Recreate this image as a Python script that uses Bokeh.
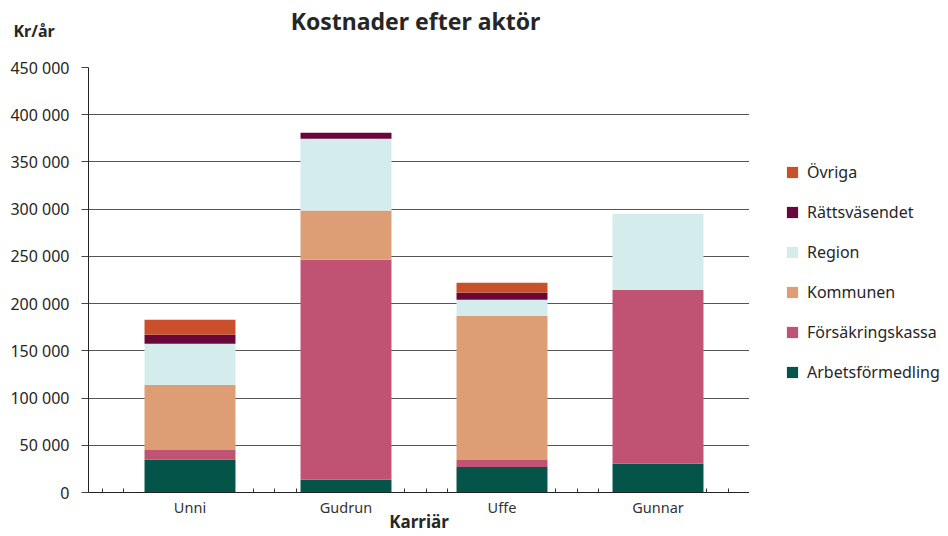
from bokeh.plotting import figure
from bokeh.models import ColumnDataSource, Range1d, FixedTicker, Legend, LegendItem, Label
from bokeh.layouts import column, row
from bokeh.embed import file_html
from bokeh.resources import INLINE

# ---- data ----
persons = ["Unni", "Gudrun", "Uffe", "Gunnar"]
series = ["Arbetsförmedling", "Försäkringskassa", "Kommunen", "Region", "Rättsväsendet", "Övriga"]
arbetsformedling = [35000, 13500, 27000, 30500]
forsakringskassa = [10000, 233000, 7500, 184000]
kommunen = [69000, 52000, 152500, 0]
region = [43500, 76000, 17000, 80500]
rattsvasendet = [9500, 6500, 7500, 0]
ovriga = [16000, 0, 10500, 0]
colors = ["#04544A", "#C05273", "#DD9E76", "#D5ECED", "#6A073A", "#C9502B"]
y_ticks = [0, 50000, 100000, 150000, 200000, 250000, 300000, 350000, 400000, 450000]
y_tick_labels = ["0", "50 000", "100 000", "150 000", "200 000", "250 000",
                 "300 000", "350 000", "400 000", "450 000"]
title_text = "Kostnader efter aktör"
y_unit_text = "Kr/år"
x_title_text = "Karriär"

FONT = "Noto Sans"
TXT = "#262626"
W = 948
HEAD_H = 50
MAIN_W = 749
BODY_H = 536 - HEAD_H

# ---- header (title and unit) ----
head = figure(width=W, height=HEAD_H, output_backend="svg", toolbar_location=None, title=None,
              x_range=Range1d(0, W), y_range=Range1d(HEAD_H, 0),
              x_axis_location=None, y_axis_location=None, min_border=0)
head.frame_align = False
head.outline_line_color = None
head.grid.grid_line_color = None
head.add_layout(Label(x=415, y=20, text=title_text, text_align="center",
                      text_baseline="alphabetic", text_font=FONT, text_font_size="23px",
                      text_font_style="bold", text_color=TXT))
head.add_layout(Label(x=13, y=30, text=y_unit_text, text_align="left",
                      text_baseline="alphabetic", text_font=FONT, text_font_size="16px",
                      text_font_style="bold", text_color=TXT))

# ---- main chart ----
idx = list(range(len(persons)))
bar_width = 0.583
source = ColumnDataSource(dict(
    x=idx,
    **{"s%d" % i: v for i, v in enumerate([arbetsformedling, forsakringskassa, kommunen,
                                           region, rattsvasendet, ovriga])}
))
keys = ["s%d" % i for i in range(len(series))]

p = figure(width=MAIN_W, height=BODY_H, output_backend="svg", toolbar_location=None, title=None,
           x_range=Range1d(-0.6506, 3.5865), y_range=Range1d(0, 450000),
           min_border_left=88, min_border_right=0, min_border_top=17, min_border_bottom=44)
p.frame_align = False
p.outline_line_color = None

p.vbar_stack(keys, x="x", width=bar_width, color=colors, line_color=None, source=source)

# y axis
p.yaxis.ticker = FixedTicker(ticks=y_ticks)
p.yaxis.major_label_overrides = {t: l for t, l in zip(y_ticks, y_tick_labels)}
p.yaxis.major_label_text_font = FONT
p.yaxis.major_label_text_font_size = "16px"
p.yaxis.major_label_text_color = TXT
p.yaxis.major_tick_out = 7
p.yaxis.major_tick_in = 0
p.yaxis.minor_tick_out = 0
p.yaxis.minor_tick_in = 0
p.yaxis.major_label_standoff = 12
p.yaxis.axis_line_color = "#222222"
p.yaxis.major_tick_line_color = "#444444"

# x axis (small inner ticks only between bars)
all_minor = [-0.5628 + 0.1384 * k for k in range(31)]
minor = [t for t in all_minor if not any(abs(t - i) < bar_width / 2 for i in idx)]
p.xaxis.ticker = FixedTicker(ticks=idx, minor_ticks=minor)
p.xaxis.major_label_overrides = {i: n for i, n in zip(idx, persons)}
p.xaxis.major_label_text_font = FONT
p.xaxis.major_label_text_font_size = "14.5px"
p.xaxis.major_label_text_color = "#333333"
p.xaxis.major_tick_in = 0
p.xaxis.major_tick_out = 0
p.xaxis.minor_tick_in = 4
p.xaxis.minor_tick_out = 0
p.xaxis.minor_tick_line_color = "#333333"
p.xaxis.axis_line_color = "#222222"
p.xaxis.major_label_standoff = 4
p.xaxis.axis_label = x_title_text
p.xaxis.axis_label_text_font = FONT
p.xaxis.axis_label_text_font_size = "17px"
p.xaxis.axis_label_text_font_style = "bold"
p.xaxis.axis_label_text_color = TXT
p.xaxis.axis_label_standoff = -10

p.xgrid.grid_line_color = None
p.ygrid.grid_line_color = "#555555"
p.ygrid.grid_line_width = 1

# ---- legend panel (zero-size swatch proxies, no data drawn) ----
leg = figure(width=W - MAIN_W, height=BODY_H, output_backend="svg", toolbar_location=None,
             title=None, x_axis_location=None, y_axis_location=None, min_border=0,
             x_range=Range1d(0, 1), y_range=Range1d(0, 1))
leg.frame_align = False
leg.outline_line_color = None
leg.grid.grid_line_color = None
swatches = [leg.vbar(x=[0.5], bottom=[0], top=[0], width=0, color=c, line_color=None)
            for c in colors]
items = [LegendItem(label=s, renderers=[r]) for s, r in zip(series, swatches)][::-1]
legend = Legend(items=items, location=(36, 153), ncols=1,
                glyph_width=14, glyph_height=14,
                label_text_font=FONT, label_text_font_size="16px", label_text_color=TXT,
                label_standoff=8, spacing=18, label_height=20, padding=0, margin=0,
                border_line_alpha=0, background_fill_alpha=0)
leg.add_layout(legend)

layout = column(head, row(p, leg, spacing=0), spacing=0)
open("out.html", "w").write(file_html(layout, INLINE))
